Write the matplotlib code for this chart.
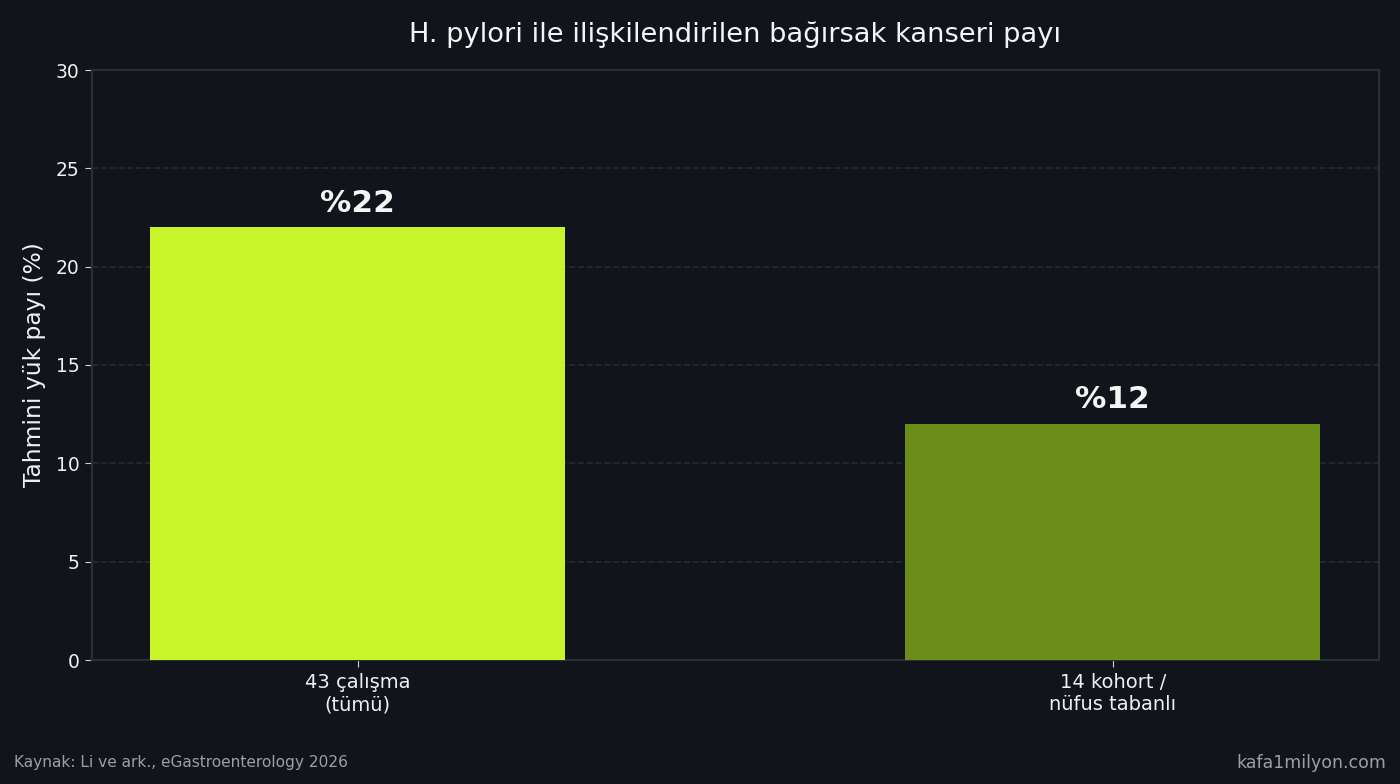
import matplotlib
matplotlib.use("Agg")
import matplotlib.pyplot as plt

categories = ["43 çalışma\n(tümü)", "14 kohort /\nnüfus tabanlı"]
values = [22, 12]
labels = ["%22", "%12"]
colors = ["#c8f52a", "#6b8e1b"]

BG = "#11141b"
EDGE = "#2b2f38"

fig = plt.figure(figsize=(14, 7.84), dpi=100, facecolor=BG)
ax = fig.add_axes([91.5/1400, 1 - 660/784, (1379-91.5)/1400, (660-70)/784])
ax.set_facecolor(BG)

x = list(range(len(categories)))
ax.bar(x, values, width=0.55, color=colors, zorder=3)
for xi, v, lab in zip(x, values, labels):
    ax.text(xi, v + 0.5, lab, ha="center", va="bottom", color="#f5f5f5",
            fontsize=22.5, fontweight="bold", zorder=4)

ax.set_ylim(0, 30)
ax.set_yticks([0, 5, 10, 15, 20, 25, 30])
ax.set_xticks(x)
ax.set_xticklabels(categories)
ax.tick_params(axis="x", colors="#cfcfcf", labelcolor="#f0f0f0", labelsize=14, length=5, pad=4.5)
ax.tick_params(axis="y", colors="#cfcfcf", labelcolor="#f0f0f0", labelsize=13.5, length=5)
for s in ax.spines.values():
    s.set_color(EDGE)
    s.set_linewidth(1.5)
ax.grid(axis="y", linestyle="--", color="#262a33", linewidth=1.2, zorder=0)
ax.set_axisbelow(True)

ax.set_ylabel("Tahmini yük payı (%)", color="#f0f0f0", fontsize=16.8, labelpad=7)
fig.text((91.5+1379)/2/1400, 1 - 35/784, "H. pylori ile ilişkilendirilen bağırsak kanseri payı",
         ha="center", va="center", color="#f5f5f5", fontsize=19.6)
fig.text(14/1400, 1 - 763/784, "Kaynak: Li ve ark., eGastroenterology 2026",
         ha="left", va="center", color="#9aa0aa", fontsize=11.1)
fig.text(1386/1400, 1 - 763/784, "kafa1milyon.com",
         ha="right", va="center", color="#9aa0aa", fontsize=12.5)

fig.savefig("out.png", dpi=100, facecolor=BG)
